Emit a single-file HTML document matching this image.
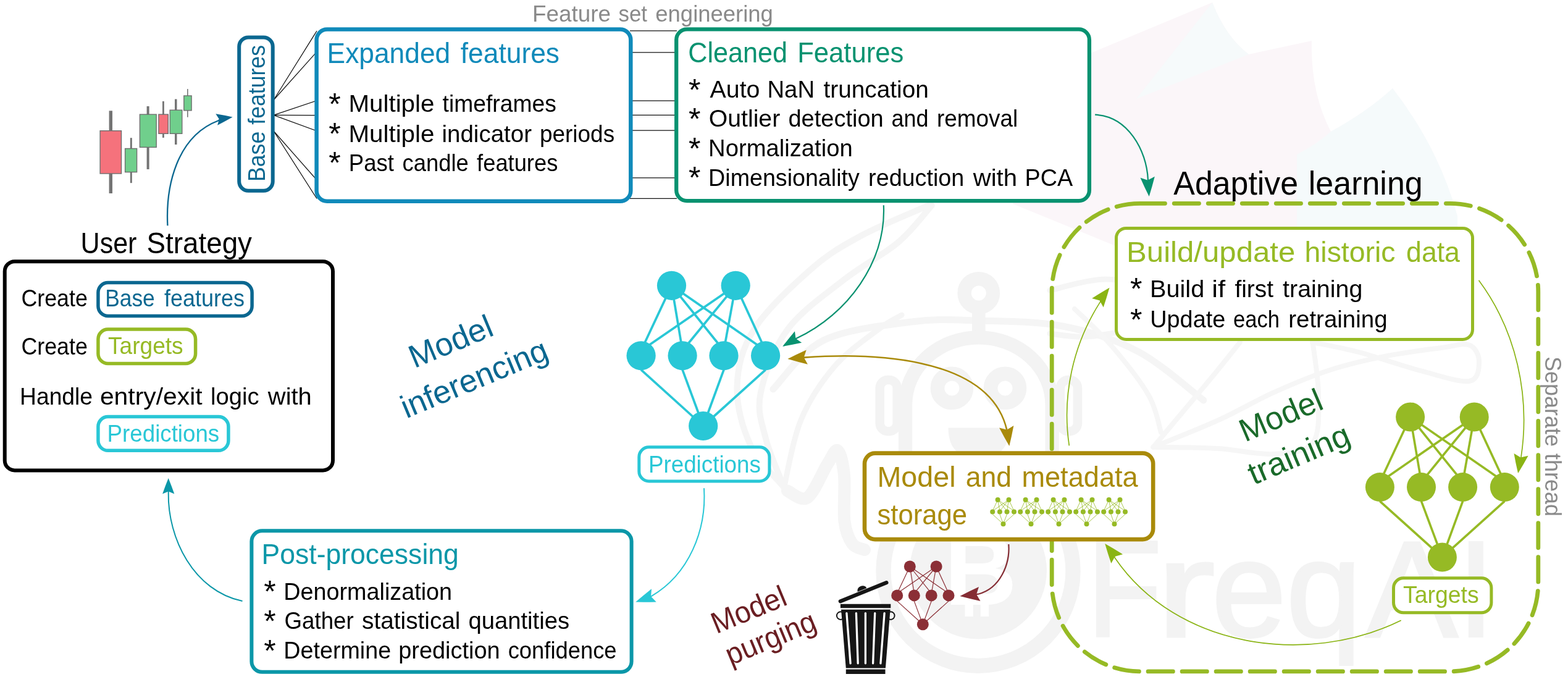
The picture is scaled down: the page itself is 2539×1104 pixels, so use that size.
<!DOCTYPE html>
<html lang="en">
<head>
<meta charset="utf-8">
<title>FreqAI algorithm overview</title>
<style>
html,body{margin:0;padding:0;background:#fff;}
body{width:2539px;height:1104px;overflow:hidden;}
svg{display:block;font-family:'Liberation Sans', sans-serif;will-change:transform;word-spacing:0.08em;}
text{white-space:pre;}
</style>
</head>
<body>
<svg width="2539" height="1104" viewBox="0 0 2539 1104">
<rect width="2539" height="1104" fill="#fff"/>
<g id="wm">
<path d="M1640 330 L1766 86 L1963 4 Q1985 60 2022 88 L2124 66 Q2122 150 2155 213 Q2215 180 2255 143 Q2330 240 2360 350 L2360 420 L1860 420 Z" fill="#fbf6f9"/>
<path d="M1963 4 Q1985 60 2022 88 L1840 160 Z" fill="#f6fafb"/>
<path d="M2255 143 Q2330 240 2360 350 L2360 400 L2100 400 L2100 250 Q2130 235 2155 213 Q2215 180 2255 143Z" fill="#f5fafb"/>
<path d="M1269.6 789.0 C1260.5 777.5 1227.7 747.2 1215.0 720.0 C1202.3 692.8 1192.5 657.0 1193.5 626.0 C1194.5 595.0 1200.8 565.4 1220.7 533.7 C1240.6 502.0 1284.0 461.3 1313.0 435.9 C1342.0 410.5 1362.9 398.7 1394.6 381.5 C1426.3 364.3 1485.2 340.8 1503.3 332.6" fill="none" stroke="#f5f5f5" stroke-width="10" stroke-linecap="round" stroke-linejoin="round"/>
<path d="M1269.6 789.0 C1264.7 775.8 1246.3 735.3 1240.0 710.0 C1233.7 684.7 1225.7 666.4 1231.5 637.0 C1237.3 607.6 1252.3 564.5 1275.0 533.7 C1297.7 502.9 1337.5 475.8 1367.4 452.2 C1397.3 428.6 1430.8 412.3 1454.3 392.4 C1477.8 372.5 1499.6 342.6 1508.7 332.6" fill="none" stroke="#f5f5f5" stroke-width="10" stroke-linecap="round" stroke-linejoin="round"/>
<path d="M1269.6 789.0 C1274.1 770.9 1283.1 713.0 1296.7 680.4 C1310.3 647.8 1330.2 618.0 1351.0 593.5 C1371.8 569.0 1403.5 547.6 1421.7 533.7 C1439.9 519.8 1453.6 514.0 1460.0 510.0" fill="none" stroke="#f5f5f5" stroke-width="9" stroke-linecap="round" stroke-linejoin="round"/>
<path d="M1275.0 794.6 C1280.4 796.4 1296.8 812.7 1307.6 805.4 C1318.4 798.1 1331.8 763.7 1340.0 751.0 C1348.2 738.3 1352.0 726.1 1356.5 729.3 C1361.0 732.5 1365.2 751.0 1367.0 770.0 C1368.8 789.0 1365.2 825.2 1367.4 843.5 C1369.6 861.8 1374.6 872.2 1380.0 880.0 C1385.4 887.8 1396.7 888.3 1400.0 890.0" fill="none" stroke="#f5f5f5" stroke-width="20" stroke-linecap="round" stroke-linejoin="round"/>
<path d="M1251.9 630.0 C1265.5 616.8 1296.1 569.2 1333.4 551.0 C1370.8 532.8 1434.2 526.3 1476.0 521.0 C1517.8 515.7 1543.2 517.8 1584.0 519.0 C1624.8 520.2 1677.5 519.7 1720.6 528.0 C1763.7 536.3 1804.8 549.0 1842.8 569.0 C1880.8 589.0 1931.1 634.8 1948.8 648.0" fill="none" stroke="#f5f5f5" stroke-width="11" stroke-linecap="round" stroke-linejoin="round"/>
<path d="M1700.0 470.0 C1715.0 467.0 1760.0 452.0 1790.0 452.0 C1820.0 452.0 1861.7 462.0 1880.0 470.0 C1898.3 478.0 1906.7 490.0 1900.0 500.0 C1893.3 510.0 1863.3 522.5 1840.0 530.0 C1816.7 537.5 1783.3 543.3 1760.0 545.0 C1736.7 546.7 1710.0 540.8 1700.0 540.0" fill="none" stroke="#f5f5f5" stroke-width="9" stroke-linecap="round" stroke-linejoin="round"/>
<path d="M1867.5 723.7 C1884.9 716.5 1939.2 695.4 1971.7 680.7 C2004.2 666.0 2032.0 649.0 2062.2 635.4 C2092.4 621.8 2122.6 609.0 2152.8 599.2 C2183.0 589.4 2213.1 582.6 2243.3 576.6 C2273.5 570.6 2311.3 566.0 2333.9 563.0 C2356.5 560.0 2368.8 554.8 2379.0 558.5 C2389.2 562.2 2395.0 575.2 2395.0 585.0 C2395.0 594.8 2394.8 614.5 2379.0 617.0 C2363.2 619.5 2329.8 607.8 2300.0 600.0 C2270.2 592.2 2229.2 577.7 2200.0 570.0 C2170.8 562.3 2137.5 556.7 2125.0 554.0" fill="none" stroke="#f6f6f6" stroke-width="8" stroke-linecap="round" stroke-linejoin="round"/>
<path d="M1867.5 723.7 C1877.3 712.0 1909.0 674.2 1926.4 653.5 C1943.8 632.8 1958.1 615.8 1971.7 599.2 C1985.3 582.6 2001.9 561.5 2007.9 554.0" fill="none" stroke="#f6f6f6" stroke-width="8" stroke-linecap="round" stroke-linejoin="round"/>
<path d="M1867.5 723.7 C1884.9 724.1 1939.3 724.1 1971.7 726.0 C2004.1 727.9 2036.3 736.5 2062.0 735.0 C2087.7 733.5 2113.4 732.8 2125.6 717.0 C2137.8 701.2 2135.0 667.2 2135.0 640.0 C2135.0 612.8 2127.2 568.3 2125.6 554.0" fill="none" stroke="#f6f6f6" stroke-width="8" stroke-linecap="round" stroke-linejoin="round"/>
<path d="M1740.0 500.0 C1750.0 510.0 1780.0 536.7 1800.0 560.0 C1820.0 583.3 1846.7 616.7 1860.0 640.0 C1873.3 663.3 1876.7 690.0 1880.0 700.0" fill="none" stroke="#f6f6f6" stroke-width="8" stroke-linecap="round" stroke-linejoin="round"/>
<g fill="none" stroke="#f3f3f3">
<circle cx="1584.8" cy="474.4" r="23.2" stroke-width="22.4"/>
<line x1="1584.8" y1="503" x2="1584.8" y2="540" stroke-width="21.5"/>
<path d="M1466 740 L1466 655 A118.8 108.7 0 0 1 1703.6 655 L1703.6 740" stroke-width="22.4"/>
<circle cx="1541.4" cy="628.4" r="23.4" stroke-width="22.8"/>
<circle cx="1627.5" cy="628.4" r="23.4" stroke-width="22.8"/>
<rect x="1424.7" y="615" width="28" height="83.2" rx="13" stroke-width="14.6"/>
<rect x="1716.9" y="615" width="28" height="83.2" rx="13" stroke-width="14.6"/>
<circle cx="1584" cy="924.3" r="153.5" stroke-width="24.3"/>
</g>
<path d="M1535.5 692.6 L1634 692.6 Q1634 742 1584.8 742 Q1535.5 742 1535.5 692.6Z" fill="#f3f3f3"/>
<circle cx="1584" cy="923.6" r="111" fill="#f3f3f3"/>
<rect x="1562.4" y="975" width="13.3" height="23" fill="#fff"/><rect x="1587.8" y="975" width="13.3" height="23" fill="#fff"/>
<text x="1529.0" y="979.3" font-size="163" fill="#fff" font-weight="bold">B</text>
<text y="1030.4" font-size="221" fill="#f3f3f3" stroke="#f3f3f3" stroke-width="4" style="word-spacing:0"><tspan x="1760.6" textLength="120.2" lengthAdjust="spacingAndGlyphs">F</tspan><tspan x="1872.0" textLength="95.5" lengthAdjust="spacingAndGlyphs">r</tspan><tspan x="1962.2" textLength="120.4" lengthAdjust="spacingAndGlyphs">e</tspan><tspan x="2083.0" textLength="121.2" lengthAdjust="spacingAndGlyphs">q</tspan><tspan x="2211.6" textLength="148.9" lengthAdjust="spacingAndGlyphs">A</tspan><tspan x="2359.9" textLength="59.6" lengthAdjust="spacingAndGlyphs">I</tspan></text>
</g>
<text y="34.5" font-size="37.5" fill="#8a8a8a" style="word-spacing:0"><tspan x="862.1" textLength="127.0" lengthAdjust="spacingAndGlyphs">Feature</tspan> <tspan x="1001.5" textLength="46.5" lengthAdjust="spacingAndGlyphs">set</tspan> <tspan x="1061.3" textLength="190.6" lengthAdjust="spacingAndGlyphs">engineering</tspan></text>
<g stroke="#111" stroke-width="1.25" fill="none">
<line x1="443" y1="162" x2="513" y2="50"/>
<line x1="443" y1="162" x2="511" y2="86"/>
<line x1="443" y1="186.3" x2="511" y2="163.6"/>
<line x1="443" y1="186.3" x2="511" y2="186.6"/>
<line x1="443" y1="186.3" x2="511" y2="211.2"/>
<line x1="443" y1="212" x2="511" y2="289.2"/>
<line x1="443" y1="212" x2="513" y2="321.5"/>
<line x1="1020" y1="49.9" x2="1096" y2="49.9"/>
<line x1="1020" y1="84.8" x2="1096" y2="84.8"/>
<line x1="1020" y1="163.2" x2="1096" y2="163.2"/>
<line x1="1020" y1="186.3" x2="1096" y2="186.3"/>
<line x1="1020" y1="211.1" x2="1096" y2="211.1"/>
<line x1="1020" y1="287.9" x2="1096" y2="287.9"/>
<line x1="1020" y1="321.4" x2="1096" y2="321.4"/>
</g>
<rect x="176.6" y="179.3" width="5.4" height="133.7" fill="#747474"/>
<rect x="162.1" y="211.7" width="34.4" height="69.3" fill="#f5727c" stroke="#6f6f6f" stroke-width="1.4"/>
<rect x="210.8" y="223.2" width="3.0" height="73.0" fill="#747474"/>
<rect x="202.6" y="240.5" width="19.0" height="38.1" fill="#70cf8c" stroke="#6f6f6f" stroke-width="1.4"/>
<rect x="237.6" y="172.0" width="4.0" height="102.0" fill="#747474"/>
<rect x="226.4" y="185.2" width="26.8" height="53.2" fill="#70cf8c" stroke="#6f6f6f" stroke-width="1.4"/>
<rect x="263.0" y="163.9" width="2.8" height="59.0" fill="#747474"/>
<rect x="256.9" y="185.2" width="15.4" height="31.1" fill="#f5727c" stroke="#6f6f6f" stroke-width="1.4"/>
<rect x="283.0" y="160.5" width="3.5" height="73.5" fill="#747474"/>
<rect x="275.2" y="178.2" width="19.6" height="38.1" fill="#70cf8c" stroke="#6f6f6f" stroke-width="1.4"/>
<rect x="303.0" y="144.0" width="1.6" height="45.7" fill="#747474"/>
<rect x="297.8" y="155.0" width="12.3" height="23.8" fill="#70cf8c" stroke="#6f6f6f" stroke-width="1.4"/>
<rect x="387.2" y="60.6" width="54.5" height="248.1" rx="15" ry="15" fill="#fff" stroke="#0b6790" stroke-width="6"/>
<text transform="translate(429.0 294.0) rotate(-90)" font-size="38.5" fill="#0b6790" textLength="221.0" lengthAdjust="spacingAndGlyphs">Base features</text>
<rect x="512.6" y="47.5" width="508.7" height="278.3" rx="17" ry="17" fill="#fff" stroke="#108aba" stroke-width="6.5"/>
<text y="102.2" font-size="46.5" fill="#108aba" style="word-spacing:0"><tspan x="529.6" textLength="199.6" lengthAdjust="spacingAndGlyphs">Expanded</tspan> <tspan x="745.8" textLength="160.2" lengthAdjust="spacingAndGlyphs">features</tspan></text>
<text x="532.3" y="185.5" font-size="50" fill="#000">*</text>
<text y="181.0" font-size="39" fill="#000" style="word-spacing:0"><tspan x="564.4" textLength="139.1" lengthAdjust="spacingAndGlyphs">Multiple</tspan> <tspan x="716.6" textLength="184.2" lengthAdjust="spacingAndGlyphs">timeframes</tspan></text>
<text x="532.3" y="234.1" font-size="50" fill="#000">*</text>
<text y="229.6" font-size="39" fill="#000" style="word-spacing:0"><tspan x="564.4" textLength="139.1" lengthAdjust="spacingAndGlyphs">Multiple</tspan> <tspan x="715.5" textLength="145.5" lengthAdjust="spacingAndGlyphs">indicator</tspan> <tspan x="874.0" textLength="121.1" lengthAdjust="spacingAndGlyphs">periods</tspan></text>
<text x="532.3" y="281.0" font-size="50" fill="#000">*</text>
<text y="276.5" font-size="39" fill="#000" style="word-spacing:0"><tspan x="564.8" textLength="73.2" lengthAdjust="spacingAndGlyphs">Past</tspan> <tspan x="651.5" textLength="107.3" lengthAdjust="spacingAndGlyphs">candle</tspan> <tspan x="772.1" textLength="131.2" lengthAdjust="spacingAndGlyphs">features</tspan></text>
<rect x="1095.2" y="47.4" width="668.7" height="277.7" rx="17" ry="17" fill="#fff" stroke="#089270" stroke-width="6.3"/>
<text y="100.5" font-size="46.5" fill="#089270" style="word-spacing:0"><tspan x="1114.3" textLength="160.8" lengthAdjust="spacingAndGlyphs">Cleaned</tspan> <tspan x="1291.2" textLength="172.2" lengthAdjust="spacingAndGlyphs">Features</tspan></text>
<text x="1114.9" y="162.7" font-size="50" fill="#000">*</text>
<text y="158.2" font-size="39" fill="#000" style="word-spacing:0"><tspan x="1149.6" textLength="80.9" lengthAdjust="spacingAndGlyphs">Auto</tspan> <tspan x="1242.5" textLength="76.5" lengthAdjust="spacingAndGlyphs">NaN</tspan> <tspan x="1333.6" textLength="170.2" lengthAdjust="spacingAndGlyphs">truncation</tspan></text>
<text x="1114.9" y="209.9" font-size="50" fill="#000">*</text>
<text y="205.4" font-size="39" fill="#000" style="word-spacing:0"><tspan x="1147.8" textLength="115.4" lengthAdjust="spacingAndGlyphs">Outlier</tspan> <tspan x="1276.4" textLength="154.3" lengthAdjust="spacingAndGlyphs">detection</tspan> <tspan x="1443.5" textLength="60.0" lengthAdjust="spacingAndGlyphs">and</tspan> <tspan x="1517.0" textLength="131.3" lengthAdjust="spacingAndGlyphs">removal</tspan></text>
<text x="1114.9" y="257.5" font-size="50" fill="#000">*</text>
<text y="253.0" font-size="39" fill="#000" style="word-spacing:0"><tspan x="1147.1" textLength="233.6" lengthAdjust="spacingAndGlyphs">Normalization</tspan></text>
<text x="1114.9" y="305.1" font-size="50" fill="#000">*</text>
<text y="300.6" font-size="39" fill="#000" style="word-spacing:0"><tspan x="1147.1" textLength="244.7" lengthAdjust="spacingAndGlyphs">Dimensionality</tspan> <tspan x="1406.1" textLength="155.2" lengthAdjust="spacingAndGlyphs">reduction</tspan> <tspan x="1575.7" textLength="71.3" lengthAdjust="spacingAndGlyphs">with</tspan> <tspan x="1659.6" textLength="77.6" lengthAdjust="spacingAndGlyphs">PCA</tspan></text>
<text y="315.0" font-size="54.5" fill="#000" style="word-spacing:0"><tspan x="1900.3" textLength="201.8" lengthAdjust="spacingAndGlyphs">Adaptive</tspan> <tspan x="2118.8" textLength="184.9" lengthAdjust="spacingAndGlyphs">learning</tspan></text>
<path d="M1846.2 329.3 L2347.8 329.3 A143 143 0 0 1 2490.8 472.3 L2490.8 943.9000000000001 A143 143 0 0 1 2347.8 1086.9 L1846.2 1086.9 A143 143 0 0 1 1703.2 943.9000000000001 L1703.2 472.3 A143 143 0 0 1 1846.2 329.3" fill="none" stroke="#96ba25" stroke-width="6.8" stroke-linecap="round" stroke-dasharray="40.3 14.72"/>
<rect x="1807.5" y="369.4" width="577.0" height="180.1" rx="16" ry="16" fill="#fff" stroke="#96ba25" stroke-width="5"/>
<text y="423.7" font-size="46.5" fill="#96ba25" style="word-spacing:0"><tspan x="1824.1" textLength="273.2" lengthAdjust="spacingAndGlyphs">Build/update</tspan> <tspan x="2112.5" textLength="147.1" lengthAdjust="spacingAndGlyphs">historic</tspan> <tspan x="2277.1" textLength="86.8" lengthAdjust="spacingAndGlyphs">data</tspan></text>
<text x="1829.9" y="485.2" font-size="50" fill="#000">*</text>
<text y="480.7" font-size="39" fill="#000" style="word-spacing:0"><tspan x="1862.0" textLength="88.2" lengthAdjust="spacingAndGlyphs">Build</tspan> <tspan x="1962.2" textLength="21.9" lengthAdjust="spacingAndGlyphs">if</tspan> <tspan x="1999.4" textLength="62.7" lengthAdjust="spacingAndGlyphs">first</tspan> <tspan x="2077.1" textLength="129.3" lengthAdjust="spacingAndGlyphs">training</tspan></text>
<text x="1829.9" y="534.8" font-size="50" fill="#000">*</text>
<text y="530.3" font-size="39" fill="#000" style="word-spacing:0"><tspan x="1862.3" textLength="121.9" lengthAdjust="spacingAndGlyphs">Update</tspan> <tspan x="1996.9" textLength="75.1" lengthAdjust="spacingAndGlyphs">each</tspan> <tspan x="2086.2" textLength="160.4" lengthAdjust="spacingAndGlyphs">retraining</tspan></text>
<text transform="translate(2502.0 577.0) rotate(90)" font-size="37" fill="#8a8a8a" textLength="259.0" lengthAdjust="spacingAndGlyphs">Separate thread</text>
<text transform="translate(2016.0 716.0) rotate(-23)" font-size="52" fill="#1a6a2a" textLength="141.0" lengthAdjust="spacingAndGlyphs">Model</text>
<text transform="translate(2030.0 785.5) rotate(-23)" font-size="52" fill="#1a6a2a" textLength="174.0" lengthAdjust="spacingAndGlyphs">training</text>
<g stroke="#96ba25" stroke-width="3.6" fill="#96ba25"><line x1="2283.6" y1="675.0" x2="2234.4" y2="780.4"/><line x1="2283.6" y1="675.0" x2="2301.5" y2="780.4"/><line x1="2283.6" y1="675.0" x2="2368.6" y2="780.4"/><line x1="2283.6" y1="675.0" x2="2436.3" y2="780.4"/><line x1="2387.2" y1="675.0" x2="2234.4" y2="780.4"/><line x1="2387.2" y1="675.0" x2="2301.5" y2="780.4"/><line x1="2387.2" y1="675.0" x2="2368.6" y2="780.4"/><line x1="2387.2" y1="675.0" x2="2436.3" y2="780.4"/><line x1="2234.4" y1="811.4" x2="2335.4" y2="902.1"/><line x1="2301.5" y1="811.4" x2="2335.4" y2="902.1"/><line x1="2368.6" y1="811.4" x2="2335.4" y2="902.1"/><line x1="2436.3" y1="811.4" x2="2335.4" y2="902.1"/><circle cx="2283.6" cy="675.0" r="23.5" stroke="none"/><circle cx="2387.2" cy="675.0" r="23.5" stroke="none"/><circle cx="2234.4" cy="788.6" r="23.5" stroke="none"/><circle cx="2301.5" cy="788.6" r="23.5" stroke="none"/><circle cx="2368.6" cy="788.6" r="23.5" stroke="none"/><circle cx="2436.3" cy="788.6" r="23.5" stroke="none"/><circle cx="2335.4" cy="902.1" r="23.5" stroke="none"/></g>
<rect x="2256.5" y="935.8" width="158.4" height="56.0" rx="16" ry="16" fill="#fff" stroke="#96ba25" stroke-width="5"/>
<text x="2272.0" y="975.6" font-size="39" fill="#96ba25" textLength="122.7" lengthAdjust="spacingAndGlyphs">Targets</text>
<text y="410.3" font-size="47.5" fill="#000" style="word-spacing:0"><tspan x="130.6" textLength="90.8" lengthAdjust="spacingAndGlyphs">User</tspan> <tspan x="237.6" textLength="170.4" lengthAdjust="spacingAndGlyphs">Strategy</tspan></text>
<rect x="7.7" y="423.3" width="531.3" height="338.1" rx="16" ry="16" fill="#fff" stroke="#000" stroke-width="6"/>
<text x="34.5" y="495.7" font-size="39" fill="#000" textLength="107.3" lengthAdjust="spacingAndGlyphs">Create</text>
<text x="34.5" y="573.8" font-size="39" fill="#000" textLength="107.3" lengthAdjust="spacingAndGlyphs">Create</text>
<text y="655.0" font-size="39" fill="#000" style="word-spacing:0"><tspan x="32.0" textLength="118.1" lengthAdjust="spacingAndGlyphs">Handle</tspan> <tspan x="161.9" textLength="165.7" lengthAdjust="spacingAndGlyphs">entry/exit</tspan> <tspan x="341.0" textLength="78.5" lengthAdjust="spacingAndGlyphs">logic</tspan> <tspan x="433.8" textLength="71.0" lengthAdjust="spacingAndGlyphs">with</tspan></text>
<rect x="158.9" y="457.6" width="249.2" height="53.9" rx="16" ry="16" fill="#fff" stroke="#0b6790" stroke-width="5.5"/>
<text y="495.7" font-size="39" fill="#0b6790" style="word-spacing:0"><tspan x="170.2" textLength="80.6" lengthAdjust="spacingAndGlyphs">Base</tspan> <tspan x="265.9" textLength="130.0" lengthAdjust="spacingAndGlyphs">features</tspan></text>
<rect x="158.9" y="533.0" width="157.7" height="55.5" rx="16" ry="16" fill="#fff" stroke="#96ba25" stroke-width="5.5"/>
<text x="175.0" y="572.8" font-size="39" fill="#96ba25" textLength="121.6" lengthAdjust="spacingAndGlyphs">Targets</text>
<rect x="158.9" y="674.5" width="211.0" height="54.8" rx="16" ry="16" fill="#fff" stroke="#29c7d6" stroke-width="5.5"/>
<text x="173.6" y="715.2" font-size="39" fill="#29c7d6" textLength="181.6" lengthAdjust="spacingAndGlyphs">Predictions</text>
<text transform="translate(671.1 596.6) rotate(-22.7)" font-size="52" fill="#0b6790" textLength="142.0" lengthAdjust="spacingAndGlyphs">Model</text>
<text transform="translate(657.9 677.8) rotate(-22.7)" font-size="52" fill="#0b6790" textLength="253.0" lengthAdjust="spacingAndGlyphs">inferencing</text>
<g stroke="#29c7d6" stroke-width="3.7" fill="#29c7d6"><line x1="1087.5" y1="462.3" x2="1038.1" y2="567.5"/><line x1="1087.5" y1="462.3" x2="1105.1" y2="567.5"/><line x1="1087.5" y1="462.3" x2="1172.0" y2="567.5"/><line x1="1087.5" y1="462.3" x2="1239.6" y2="567.5"/><line x1="1191.2" y1="462.3" x2="1038.1" y2="567.5"/><line x1="1191.2" y1="462.3" x2="1105.1" y2="567.5"/><line x1="1191.2" y1="462.3" x2="1172.0" y2="567.5"/><line x1="1191.2" y1="462.3" x2="1239.6" y2="567.5"/><line x1="1038.1" y1="598.7" x2="1138.7" y2="689.5"/><line x1="1105.1" y1="598.7" x2="1138.7" y2="689.5"/><line x1="1172.0" y1="598.7" x2="1138.7" y2="689.5"/><line x1="1239.6" y1="598.7" x2="1138.7" y2="689.5"/><circle cx="1087.5" cy="462.3" r="23.6" stroke="none"/><circle cx="1191.2" cy="462.3" r="23.6" stroke="none"/><circle cx="1038.1" cy="575.8" r="23.6" stroke="none"/><circle cx="1105.1" cy="575.8" r="23.6" stroke="none"/><circle cx="1172.0" cy="575.8" r="23.6" stroke="none"/><circle cx="1239.6" cy="575.8" r="23.6" stroke="none"/><circle cx="1138.7" cy="689.5" r="23.6" stroke="none"/></g>
<rect x="1034.8" y="723.8" width="211.1" height="55.2" rx="16" ry="16" fill="#fff" stroke="#29c7d6" stroke-width="5"/>
<text x="1049.9" y="764.9" font-size="39" fill="#29c7d6" textLength="182.0" lengthAdjust="spacingAndGlyphs">Predictions</text>
<rect x="1400.0" y="733.6" width="467.2" height="139.5" rx="17" ry="17" fill="#fff" stroke="#a98a0a" stroke-width="6.6"/>
<text y="787.6" font-size="46.5" fill="#a98a0a" style="word-spacing:0"><tspan x="1420.5" textLength="127.0" lengthAdjust="spacingAndGlyphs">Model</tspan> <tspan x="1563.8" textLength="74.3" lengthAdjust="spacingAndGlyphs">and</tspan> <tspan x="1654.4" textLength="188.3" lengthAdjust="spacingAndGlyphs">metadata</tspan></text>
<text x="1420.5" y="848.6" font-size="46.5" fill="#a98a0a" textLength="145.5" lengthAdjust="spacingAndGlyphs">storage</text>
<g stroke="#96ba25" stroke-width="0.8" fill="#96ba25"><line x1="1615.6" y1="809.0" x2="1607.2" y2="827.2"/><line x1="1615.6" y1="809.0" x2="1618.9" y2="827.2"/><line x1="1615.6" y1="809.0" x2="1630.5" y2="827.2"/><line x1="1615.6" y1="809.0" x2="1642.0" y2="827.2"/><line x1="1633.5" y1="809.0" x2="1607.2" y2="827.2"/><line x1="1633.5" y1="809.0" x2="1618.9" y2="827.2"/><line x1="1633.5" y1="809.0" x2="1630.5" y2="827.2"/><line x1="1633.5" y1="809.0" x2="1642.0" y2="827.2"/><line x1="1607.2" y1="832.5" x2="1624.5" y2="848.2"/><line x1="1618.9" y1="832.5" x2="1624.5" y2="848.2"/><line x1="1630.5" y1="832.5" x2="1624.5" y2="848.2"/><line x1="1642.0" y1="832.5" x2="1624.5" y2="848.2"/><circle cx="1615.6" cy="809.0" r="4" stroke="none"/><circle cx="1633.5" cy="809.0" r="4" stroke="none"/><circle cx="1607.2" cy="828.6" r="4" stroke="none"/><circle cx="1618.9" cy="828.6" r="4" stroke="none"/><circle cx="1630.5" cy="828.6" r="4" stroke="none"/><circle cx="1642.0" cy="828.6" r="4" stroke="none"/><circle cx="1624.5" cy="848.2" r="4" stroke="none"/></g>
<g stroke="#96ba25" stroke-width="0.8" fill="#96ba25"><line x1="1660.6" y1="809.0" x2="1652.2" y2="827.2"/><line x1="1660.6" y1="809.0" x2="1663.9" y2="827.2"/><line x1="1660.6" y1="809.0" x2="1675.5" y2="827.2"/><line x1="1660.6" y1="809.0" x2="1687.0" y2="827.2"/><line x1="1678.5" y1="809.0" x2="1652.2" y2="827.2"/><line x1="1678.5" y1="809.0" x2="1663.9" y2="827.2"/><line x1="1678.5" y1="809.0" x2="1675.5" y2="827.2"/><line x1="1678.5" y1="809.0" x2="1687.0" y2="827.2"/><line x1="1652.2" y1="832.5" x2="1669.5" y2="848.2"/><line x1="1663.9" y1="832.5" x2="1669.5" y2="848.2"/><line x1="1675.5" y1="832.5" x2="1669.5" y2="848.2"/><line x1="1687.0" y1="832.5" x2="1669.5" y2="848.2"/><circle cx="1660.6" cy="809.0" r="4" stroke="none"/><circle cx="1678.5" cy="809.0" r="4" stroke="none"/><circle cx="1652.2" cy="828.6" r="4" stroke="none"/><circle cx="1663.9" cy="828.6" r="4" stroke="none"/><circle cx="1675.5" cy="828.6" r="4" stroke="none"/><circle cx="1687.0" cy="828.6" r="4" stroke="none"/><circle cx="1669.5" cy="848.2" r="4" stroke="none"/></g>
<g stroke="#96ba25" stroke-width="0.8" fill="#96ba25"><line x1="1705.6" y1="809.0" x2="1697.2" y2="827.2"/><line x1="1705.6" y1="809.0" x2="1708.9" y2="827.2"/><line x1="1705.6" y1="809.0" x2="1720.5" y2="827.2"/><line x1="1705.6" y1="809.0" x2="1732.0" y2="827.2"/><line x1="1723.5" y1="809.0" x2="1697.2" y2="827.2"/><line x1="1723.5" y1="809.0" x2="1708.9" y2="827.2"/><line x1="1723.5" y1="809.0" x2="1720.5" y2="827.2"/><line x1="1723.5" y1="809.0" x2="1732.0" y2="827.2"/><line x1="1697.2" y1="832.5" x2="1714.5" y2="848.2"/><line x1="1708.9" y1="832.5" x2="1714.5" y2="848.2"/><line x1="1720.5" y1="832.5" x2="1714.5" y2="848.2"/><line x1="1732.0" y1="832.5" x2="1714.5" y2="848.2"/><circle cx="1705.6" cy="809.0" r="4" stroke="none"/><circle cx="1723.5" cy="809.0" r="4" stroke="none"/><circle cx="1697.2" cy="828.6" r="4" stroke="none"/><circle cx="1708.9" cy="828.6" r="4" stroke="none"/><circle cx="1720.5" cy="828.6" r="4" stroke="none"/><circle cx="1732.0" cy="828.6" r="4" stroke="none"/><circle cx="1714.5" cy="848.2" r="4" stroke="none"/></g>
<g stroke="#96ba25" stroke-width="0.8" fill="#96ba25"><line x1="1750.6" y1="809.0" x2="1742.2" y2="827.2"/><line x1="1750.6" y1="809.0" x2="1753.9" y2="827.2"/><line x1="1750.6" y1="809.0" x2="1765.5" y2="827.2"/><line x1="1750.6" y1="809.0" x2="1777.0" y2="827.2"/><line x1="1768.5" y1="809.0" x2="1742.2" y2="827.2"/><line x1="1768.5" y1="809.0" x2="1753.9" y2="827.2"/><line x1="1768.5" y1="809.0" x2="1765.5" y2="827.2"/><line x1="1768.5" y1="809.0" x2="1777.0" y2="827.2"/><line x1="1742.2" y1="832.5" x2="1759.5" y2="848.2"/><line x1="1753.9" y1="832.5" x2="1759.5" y2="848.2"/><line x1="1765.5" y1="832.5" x2="1759.5" y2="848.2"/><line x1="1777.0" y1="832.5" x2="1759.5" y2="848.2"/><circle cx="1750.6" cy="809.0" r="4" stroke="none"/><circle cx="1768.5" cy="809.0" r="4" stroke="none"/><circle cx="1742.2" cy="828.6" r="4" stroke="none"/><circle cx="1753.9" cy="828.6" r="4" stroke="none"/><circle cx="1765.5" cy="828.6" r="4" stroke="none"/><circle cx="1777.0" cy="828.6" r="4" stroke="none"/><circle cx="1759.5" cy="848.2" r="4" stroke="none"/></g>
<g stroke="#96ba25" stroke-width="0.8" fill="#96ba25"><line x1="1795.6" y1="809.0" x2="1787.2" y2="827.2"/><line x1="1795.6" y1="809.0" x2="1798.9" y2="827.2"/><line x1="1795.6" y1="809.0" x2="1810.5" y2="827.2"/><line x1="1795.6" y1="809.0" x2="1822.0" y2="827.2"/><line x1="1813.5" y1="809.0" x2="1787.2" y2="827.2"/><line x1="1813.5" y1="809.0" x2="1798.9" y2="827.2"/><line x1="1813.5" y1="809.0" x2="1810.5" y2="827.2"/><line x1="1813.5" y1="809.0" x2="1822.0" y2="827.2"/><line x1="1787.2" y1="832.5" x2="1804.5" y2="848.2"/><line x1="1798.9" y1="832.5" x2="1804.5" y2="848.2"/><line x1="1810.5" y1="832.5" x2="1804.5" y2="848.2"/><line x1="1822.0" y1="832.5" x2="1804.5" y2="848.2"/><circle cx="1795.6" cy="809.0" r="4" stroke="none"/><circle cx="1813.5" cy="809.0" r="4" stroke="none"/><circle cx="1787.2" cy="828.6" r="4" stroke="none"/><circle cx="1798.9" cy="828.6" r="4" stroke="none"/><circle cx="1810.5" cy="828.6" r="4" stroke="none"/><circle cx="1822.0" cy="828.6" r="4" stroke="none"/><circle cx="1804.5" cy="848.2" r="4" stroke="none"/></g>
<g stroke="#8b2f36" stroke-width="1.2" fill="#8b2f36"><line x1="1473.3" y1="917.0" x2="1452.7" y2="960.6"/><line x1="1473.3" y1="917.0" x2="1480.3" y2="960.6"/><line x1="1473.3" y1="917.0" x2="1508.2" y2="960.6"/><line x1="1473.3" y1="917.0" x2="1536.0" y2="960.6"/><line x1="1516.1" y1="917.0" x2="1452.7" y2="960.6"/><line x1="1516.1" y1="917.0" x2="1480.3" y2="960.6"/><line x1="1516.1" y1="917.0" x2="1508.2" y2="960.6"/><line x1="1516.1" y1="917.0" x2="1536.0" y2="960.6"/><line x1="1452.7" y1="973.1" x2="1494.3" y2="1010.8"/><line x1="1480.3" y1="973.1" x2="1494.3" y2="1010.8"/><line x1="1508.2" y1="973.1" x2="1494.3" y2="1010.8"/><line x1="1536.0" y1="973.1" x2="1494.3" y2="1010.8"/><circle cx="1473.3" cy="917.0" r="9.5" stroke="none"/><circle cx="1516.1" cy="917.0" r="9.5" stroke="none"/><circle cx="1452.7" cy="963.9" r="9.5" stroke="none"/><circle cx="1480.3" cy="963.9" r="9.5" stroke="none"/><circle cx="1508.2" cy="963.9" r="9.5" stroke="none"/><circle cx="1536.0" cy="963.9" r="9.5" stroke="none"/><circle cx="1494.3" cy="1010.8" r="9.5" stroke="none"/></g>
<g id="trash" fill="#161616" stroke="none">
<path d="M1360.9 977.8 L1442.3 977.8 L1442.3 984.2 L1360.9 984.2Z"/>
<circle cx="1361.2" cy="996.6" r="6.3" fill="none" stroke="#161616" stroke-width="2"/>
<circle cx="1442.3" cy="996.6" r="6.3" fill="none" stroke="#161616" stroke-width="2"/>
<path d="M1362 986.8 L1441.6 986.8 L1433.9 1081.6 L1369.8 1081.6Z"/>
<path d="M1369.8 1083.5 L1433.5 1083.5 L1433.5 1091 L1369.8 1091Z"/>
<g stroke="#fff" stroke-width="3.3" stroke-linecap="round">
<line x1="1370.9" y1="992.6" x2="1377.1" y2="1073.8"/>
<line x1="1386.4" y1="992.6" x2="1389.2" y2="1073.8"/>
<line x1="1401.4" y1="992.6" x2="1401.4" y2="1073.8"/>
<line x1="1416.7" y1="992.6" x2="1413.6" y2="1073.8"/>
<line x1="1432.1" y1="992.6" x2="1425.9" y2="1073.8"/>
</g>
<line x1="1360.8" y1="973.4" x2="1435.4" y2="943.2" stroke="#161616" stroke-width="6.2" stroke-linecap="round"/>
<path d="M1388.6 958 A8 7 -22 0 1 1403.4 952 Z"/>
</g>
<text transform="translate(1160.0 1026.6) rotate(-22.5)" font-size="49" fill="#6a1e22" textLength="127.0" lengthAdjust="spacingAndGlyphs">Model</text>
<text transform="translate(1183.0 1077.4) rotate(-22.5)" font-size="49" fill="#6a1e22" textLength="154.0" lengthAdjust="spacingAndGlyphs">purging</text>
<rect x="407.4" y="859.3" width="615.2" height="228.5" rx="17" ry="17" fill="#fff" stroke="#0b97a8" stroke-width="6"/>
<text y="913.0" font-size="46.5" fill="#0b97a8" style="word-spacing:0"><tspan x="423.6" textLength="319.2" lengthAdjust="spacingAndGlyphs">Post-processing</tspan></text>
<text x="427.3" y="975.0" font-size="50" fill="#000">*</text>
<text y="970.5" font-size="39" fill="#000" style="word-spacing:0"><tspan x="459.3" textLength="272.8" lengthAdjust="spacingAndGlyphs">Denormalization</tspan></text>
<text x="427.3" y="1022.5" font-size="50" fill="#000">*</text>
<text y="1018.0" font-size="39" fill="#000" style="word-spacing:0"><tspan x="460.6" textLength="112.1" lengthAdjust="spacingAndGlyphs">Gather</tspan> <tspan x="586.1" textLength="159.4" lengthAdjust="spacingAndGlyphs">statistical</tspan> <tspan x="758.4" textLength="163.7" lengthAdjust="spacingAndGlyphs">quantities</tspan></text>
<text x="427.3" y="1070.9" font-size="50" fill="#000">*</text>
<text y="1066.4" font-size="39" fill="#000" style="word-spacing:0"><tspan x="459.3" textLength="173.8" lengthAdjust="spacingAndGlyphs">Determine</tspan> <tspan x="645.2" textLength="164.5" lengthAdjust="spacingAndGlyphs">prediction</tspan> <tspan x="822.7" textLength="175.9" lengthAdjust="spacingAndGlyphs">confidence</tspan></text>
<path d="M271.4 365.3 C268.2 301.3 286.1 221.2 353.0 195.5 L358.5 192.3" fill="none" stroke="#0b6790" stroke-width="2.3" stroke-linejoin="round"/>
<path d="M376.6 189.5 Q364.4 196.5 352.1 202.7 L354.9 192.9 L349.3 184.3 Q362.9 186.5 376.6 189.5Z" fill="#0b6790"/>
<path d="M1773.1 185.7 C1826.3 188.0 1856.8 243.2 1858.9 291.0 L1858.9 296.2" fill="none" stroke="#089270" stroke-width="2.2" stroke-linejoin="round"/>
<path d="M1860.7 318.1 Q1853.1 303.0 1846.5 287.8 L1858.5 291.8 L1869.8 285.8 Q1865.7 301.9 1860.7 318.1Z" fill="#089270"/>
<path d="M1430.8 332.2 C1435.0 424.2 1372.2 508.8 1290.6 547.3 L1285.0 550.1" fill="none" stroke="#089270" stroke-width="2.2" stroke-linejoin="round"/>
<path d="M1267.3 560.7 Q1276.9 548.1 1287.0 536.2 L1288.5 547.9 L1298.2 554.8 Q1283.0 558.1 1267.3 560.7Z" fill="#089270"/>
<path d="M1297.4 579.0 L1302.9 578.6 C1397.5 572.1 1601.3 571.5 1630.3 695.9 L1631.1 700.1" fill="none" stroke="#a98a0a" stroke-width="2.6" stroke-linejoin="round"/>
<path d="M1275.4 581.1 Q1290.5 573.4 1305.7 566.6 L1301.7 578.6 L1307.9 589.7 Q1291.7 585.9 1275.4 581.1Z" fill="#a98a0a"/>
<path d="M1634.3 722.1 Q1625.8 707.3 1618.1 692.4 L1630.5 695.7 L1641.4 689.0 Q1638.3 705.5 1634.3 722.1Z" fill="#a98a0a"/>
<path d="M1633.3 881.0 C1635.6 913.9 1619.2 952.7 1584.2 961.7 L1576.7 962.5" fill="none" stroke="#852d34" stroke-width="2.2" stroke-linejoin="round"/>
<path d="M1554.4 965.0 Q1569.6 957.1 1585.0 950.1 L1581.1 962.1 L1587.5 972.9 Q1571.0 969.4 1554.4 965.0Z" fill="#852d34"/>
<path d="M1140.0 790.2 C1144.3 858.6 1115.4 929.4 1055.2 964.8 L1050.0 967.0" fill="none" stroke="#29c7d6" stroke-width="2" stroke-linejoin="round"/>
<path d="M1029.2 974.6 Q1042.0 963.5 1055.0 953.2 L1054.1 965.5 L1062.7 974.4 Q1046.1 974.9 1029.2 974.6Z" fill="#29c7d6"/>
<path d="M392.5 973.1 C313.8 956.6 271.4 871.8 272.7 797.5 L272.7 791.9" fill="none" stroke="#0b97a8" stroke-width="2" stroke-linejoin="round"/>
<path d="M272.7 774.0 Q277.9 786.8 282.3 799.6 L272.7 795.5 L263.1 799.6 Q267.5 786.8 272.7 774.0Z" fill="#0b97a8"/>
<path d="M1731.3 721.3 C1719.0 640.5 1737.8 556.9 1781.5 488.9 L1783.2 482.9" fill="none" stroke="#8ab414" stroke-width="1.7" stroke-linejoin="round"/>
<path d="M1796.5 465.8 Q1792.0 481.9 1786.7 497.4 L1780.5 486.3 L1768.2 483.1 Q1782.0 474.1 1796.5 465.8Z" fill="#8ab414"/>
<path d="M2394.5 453.8 C2455.2 535.2 2478.2 640.8 2463.0 740.0 L2461.5 744.9" fill="none" stroke="#8ab414" stroke-width="1.7" stroke-linejoin="round"/>
<path d="M2458.1 766.1 Q2454.3 749.9 2451.5 733.9 L2462.2 740.6 L2474.6 737.7 Q2466.8 752.0 2458.1 766.1Z" fill="#8ab414"/>
<path d="M2268.7 1004.3 C2117.1 1078.7 1905.6 1049.5 1805.6 903.5 L1802.9 897.2" fill="none" stroke="#8ab414" stroke-width="1.7" stroke-linejoin="round"/>
<path d="M1789.2 879.9 Q1804.0 888.2 1818.1 897.2 L1805.6 900.7 L1799.3 912.1 Q1793.9 896.3 1789.2 879.9Z" fill="#8ab414"/>
</svg>
</body>
</html>
